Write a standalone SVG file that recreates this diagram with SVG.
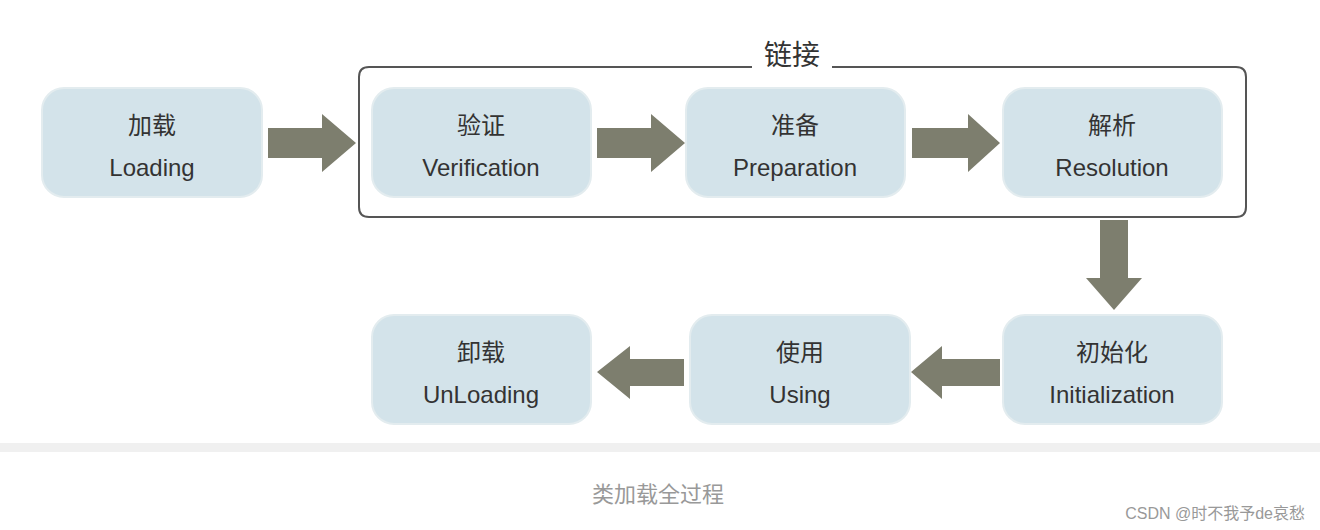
<svg xmlns="http://www.w3.org/2000/svg" width="1320" height="530" viewBox="0 0 1320 530">
<style>
.n{fill:#d3e3ea;stroke:#e3ecef;stroke-width:2}
.t{font-family:"Liberation Sans","Noto Sans CJK SC",sans-serif;font-size:24px;fill:#333;text-anchor:middle}
.a{fill:#7d7e6e}
</style>
<rect width="1320" height="530" fill="#fff"/>
<g id="link"><path d="M752 67 H369 Q359 67 359 77 V207 Q359 217 369 217 H1236 Q1246 217 1246 207 V77 Q1246 67 1236 67 H832" fill="none" stroke="#555" stroke-width="2"/>
<text class="t" x="792" y="65" style="font-size:28px">链接</text></g>
<g id="loading"><rect class="n" x="42" y="88" width="220" height="109" rx="22"/><text class="t" x="152" y="134">加载</text><text class="t" x="152" y="176">Loading</text></g>
<g id="verification"><rect class="n" x="372" y="88" width="219" height="109" rx="22"/><text class="t" x="481" y="134">验证</text><text class="t" x="481" y="176">Verification</text></g>
<g id="preparation"><rect class="n" x="686" y="88" width="219" height="109" rx="22"/><text class="t" x="795" y="134">准备</text><text class="t" x="795" y="176">Preparation</text></g>
<g id="resolution"><rect class="n" x="1003" y="88" width="219" height="109" rx="22"/><text class="t" x="1112" y="134">解析</text><text class="t" x="1112" y="176">Resolution</text></g>
<g id="unloading"><rect class="n" x="372" y="315" width="219" height="109" rx="22"/><text class="t" x="481" y="361">卸载</text><text class="t" x="481" y="403">UnLoading</text></g>
<g id="using"><rect class="n" x="690" y="315" width="220" height="109" rx="22"/><text class="t" x="800" y="361">使用</text><text class="t" x="800" y="403">Using</text></g>
<g id="initialization"><rect class="n" x="1003" y="315" width="219" height="109" rx="22"/><text class="t" x="1112" y="361">初始化</text><text class="t" x="1112" y="403">Initialization</text></g>
<g id="connectors">
<polygon class="a" points="268,128 322,128 322,114 356,143 322,172 322,158 268,158"/>
<polygon class="a" points="597,128 651,128 651,114 685,143 651,172 651,158 597,158"/>
<polygon class="a" points="912,128 968,128 968,114 1000,143 968,172 968,158 912,158"/>
<polygon class="a" points="1100,220 1128,220 1128,278 1142,278 1114,310 1086,278 1100,278"/>
<polygon class="a" points="1000,359 942,359 942,346 911,372 942,399 942,386 1000,386"/>
<polygon class="a" points="684,359 630,359 630,346 597,372 630,399 630,386 684,386"/>
</g>
<rect x="0" y="443" width="1320" height="9" fill="#f0f0f0"/>
<text x="658" y="502" style="font-family:'Liberation Sans','Noto Sans CJK SC',sans-serif;font-size:22px;fill:#999;text-anchor:middle">类加载全过程</text>
<text x="1305" y="519" style="font-family:'Liberation Sans','Noto Sans CJK SC',sans-serif;font-size:16px;fill:#999;text-anchor:end">CSDN @时不我予de哀愁</text>
</svg>
